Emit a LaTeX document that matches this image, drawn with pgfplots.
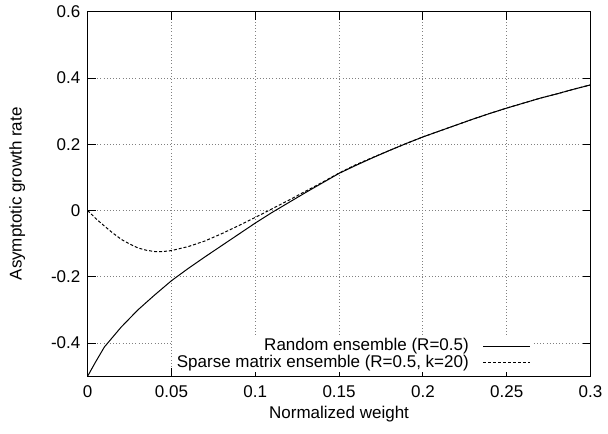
\documentclass[border=0pt]{standalone}
\usepackage{pgfplots}
\pgfplotsset{compat=1.18}
\usepackage{fontspec}
\setmainfont{Liberation Sans}
\begin{document}
\fontsize{12.8}{15}\selectfont
\begin{tikzpicture}
\begin{axis}[
  scale only axis,
  width=378.75pt, height=274.5pt,
  xmin=0, xmax=0.3, ymin=-0.5, ymax=0.6,
  xtick={0,0.05,0.1,0.15,0.2,0.25,0.3},
  ytick={-0.4,-0.2,0,0.2,0.4,0.6},
  extra y ticks={-0.5}, extra y tick labels={},
  extra y tick style={grid=none},
  xticklabels={0,0.05,0.1,0.15,0.2,0.25,0.3},
  yticklabels={-0.4,-0.2,0,0.2,0.4,0.6},
  /pgf/number format/assume math mode=true,
  xticklabel style={yshift=-3pt},
  yticklabel style={xshift=-1pt},
  tick align=inside,
  major tick length=6pt,
  tick style={black, line width=0.6pt},
  axis line style={line width=0.8pt},
  grid=major,
  major grid style={dotted, gray, line width=0.6pt},
  xlabel={Normalized weight},
  ylabel={Asymptotic growth rate},
  xlabel style={at={(rel axis cs:0.5,0)}, anchor=center, yshift=-28.5pt},
  ylabel style={at={(rel axis cs:0,0.5)}, anchor=center, yshift=53pt},
  legend plot pos=right,
  legend cell align=right,
  legend style={at={(rel axis cs:0.884,0.01)}, anchor=south east, draw=none, fill=white,
    inner sep=1pt, row sep=0pt, font=\fontsize{12.8}{13}\selectfont,
    nodes={inner ysep=0.3pt, text height=9.2pt, text depth=2.6pt}},
  legend image code/.code={\path (0cm,0cm); \draw[#1] (0.3cm,0cm) -- (1.54cm,0cm);},
]
\addplot[black, line width=0.75pt] coordinates {
(0,-0.5) (0.005,-0.455) (0.01,-0.412) (0.02,-0.352) (0.03,-0.300) (0.04,-0.255)
(0.05,-0.212) (0.06,-0.175) (0.07,-0.140) (0.08,-0.106) (0.09,-0.072) (0.10,-0.038)
(0.11,-0.006) (0.12,0.024) (0.13,0.054) (0.14,0.083) (0.15,0.112) (0.16,0.136)
(0.17,0.159) (0.18,0.181) (0.19,0.202) (0.20,0.222) (0.21,0.240) (0.22,0.258)
(0.23,0.276) (0.24,0.293) (0.25,0.309) (0.26,0.324) (0.27,0.339) (0.28,0.352)
(0.29,0.366) (0.30,0.379)
};
\addlegendentry{Random ensemble (R=0.5)}
\addplot[black, line width=0.75pt, dash pattern=on 2.25pt off 1.5pt] coordinates {
(0,0) (0.005,-0.025) (0.01,-0.047) (0.015,-0.068) (0.02,-0.087) (0.025,-0.101)
(0.03,-0.113) (0.035,-0.120) (0.04,-0.124) (0.045,-0.124) (0.05,-0.121) (0.06,-0.109)
(0.07,-0.092) (0.08,-0.070) (0.09,-0.046) (0.10,-0.021) (0.11,0.005) (0.12,0.031)
(0.13,0.058) (0.14,0.085) (0.15,0.113) (0.16,0.138) (0.17,0.160) (0.18,0.181)
(0.19,0.202) (0.20,0.222) (0.21,0.240) (0.22,0.258) (0.23,0.276) (0.24,0.293)
(0.25,0.309) (0.26,0.324) (0.27,0.339) (0.28,0.352) (0.29,0.366) (0.30,0.379)
};
\addlegendentry{Sparse matrix ensemble (R=0.5, k=20)}
\end{axis}
\path (current axis.south west) ++(-66pt,-43.5pt) rectangle ([xshift=11.25pt,yshift=4.5pt]current axis.north east);
\end{tikzpicture}
\end{document}
